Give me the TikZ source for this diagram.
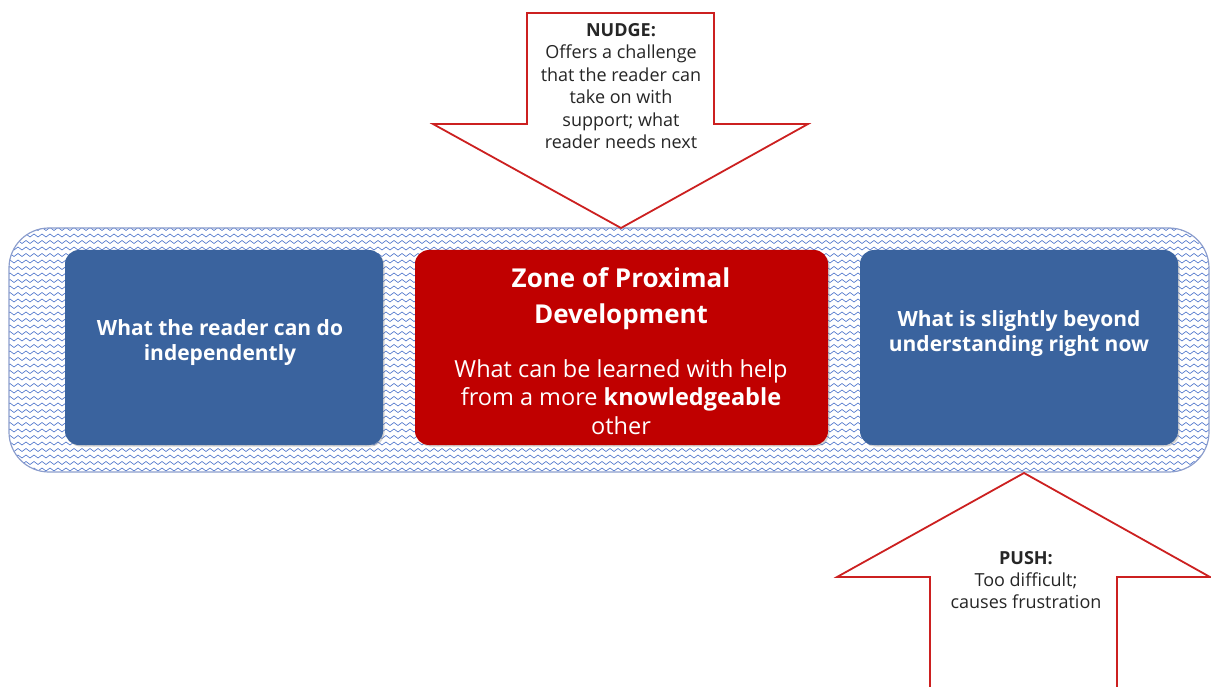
\documentclass[tikz,border=0pt]{standalone}
\usepackage{fontspec}
\setmainfont{Open Sans}
\usetikzlibrary{patterns,shadows}
\definecolor{zpdblue}{RGB}{58,99,158}
\definecolor{zpdred}{RGB}{192,0,0}
\definecolor{wavecol}{RGB}{85,122,205}
\definecolor{rimcol}{RGB}{140,158,205}
\definecolor{arrowred}{RGB}{204,32,32}
\pgfdeclarepatternformonly{waves}{\pgfpoint{-1pt}{-1pt}}{\pgfpoint{9pt}{7.5pt}}{\pgfpoint{8pt}{6.5pt}}{
    \pgfsetlinewidth{0.65pt}
    \pgfpathmoveto{\pgfpoint{0pt}{3pt}}
    \pgfpathcurveto{\pgfpoint{1.3pt}{5pt}}{\pgfpoint{2.7pt}{5pt}}{\pgfpoint{4pt}{3pt}}
    \pgfpathcurveto{\pgfpoint{5.3pt}{1pt}}{\pgfpoint{6.7pt}{1pt}}{\pgfpoint{8pt}{3pt}}
    \pgfusepath{stroke}
}
\tikzset{
    zone_band/.style = {rectangle, rounded corners=40pt, draw=rimcol, line width=1.2pt, pattern=waves, pattern color=wavecol, minimum width=1200pt, minimum height=244pt},
    box_base/.style = {rectangle, rounded corners=14pt, minimum height=195pt, drop shadow={opacity=0.35, shadow xshift=1.5pt, shadow yshift=-1.5pt}},
    box_blue/.style = {box_base, fill=zpdblue, minimum width=318pt},
    box_red/.style = {box_base, fill=zpdred, minimum width=413pt},
    box_text/.style = {align=center, text=white, inner sep=0pt},
    arrow_shape/.style = {draw=arrowred, line width=1.8pt, fill=white, line join=miter},
    arrow_text/.style = {align=center, inner sep=0pt, text=black!85, font=\fontsize{18}{22.4}\selectfont}
}
\begin{document}
\begin{tikzpicture}[x=1pt, y=-1pt]
    \useasboundingbox (0,0) rectangle (1211,687);
    % band with the three boxes
    \node [zone_band] (zone) at (609,350) {};
    \node [box_blue] (indep) at (224,347.5) {};
    \node [box_red] (zpd) at (621.5,347.5) {};
    \node [box_blue] (beyond) at (1019,347.5) {};
    \node [box_text, font=\bfseries\fontsize{21}{25}\selectfont] (indep_text) at (220,343) {What the reader can do\\independently};
    \node [box_text, font=\bfseries\fontsize{21}{25}\selectfont] (beyond_text) at (1019,334) {What is slightly beyond\\understanding right now};
    \node [box_text, font=\bfseries\fontsize{26}{36}\selectfont] (zpd_title) at (621,299) {Zone of Proximal\\Development};
    \node [box_text, font=\fontsize{23.5}{28.5}\selectfont] (zpd_body) at (621,397) {What can be learned with help\\from a more \textbf{knowledgeable}\\other};
    % nudge arrow (down)
    \draw [arrow_shape] (527,13) -- (714,13) -- (714,124) -- (808,124) -- (621,228)
        -- (433,124) -- (527,124) -- cycle;
    \node [arrow_text] (nudge) at (621,86) {\textbf{NUDGE:}\\Offers a challenge\\that the reader can\\take on with\\support; what\\reader needs next};
    % push arrow (up)
    \draw [arrow_shape] (930,695) -- (930,577) -- (837,577) -- (1024,473) -- (1210,577)
        -- (1117,577) -- (1117,695) -- cycle;
    \node [arrow_text] (push) at (1026,580) {\textbf{PUSH:}\\Too difficult;\\causes frustration};
\end{tikzpicture}
\end{document}
